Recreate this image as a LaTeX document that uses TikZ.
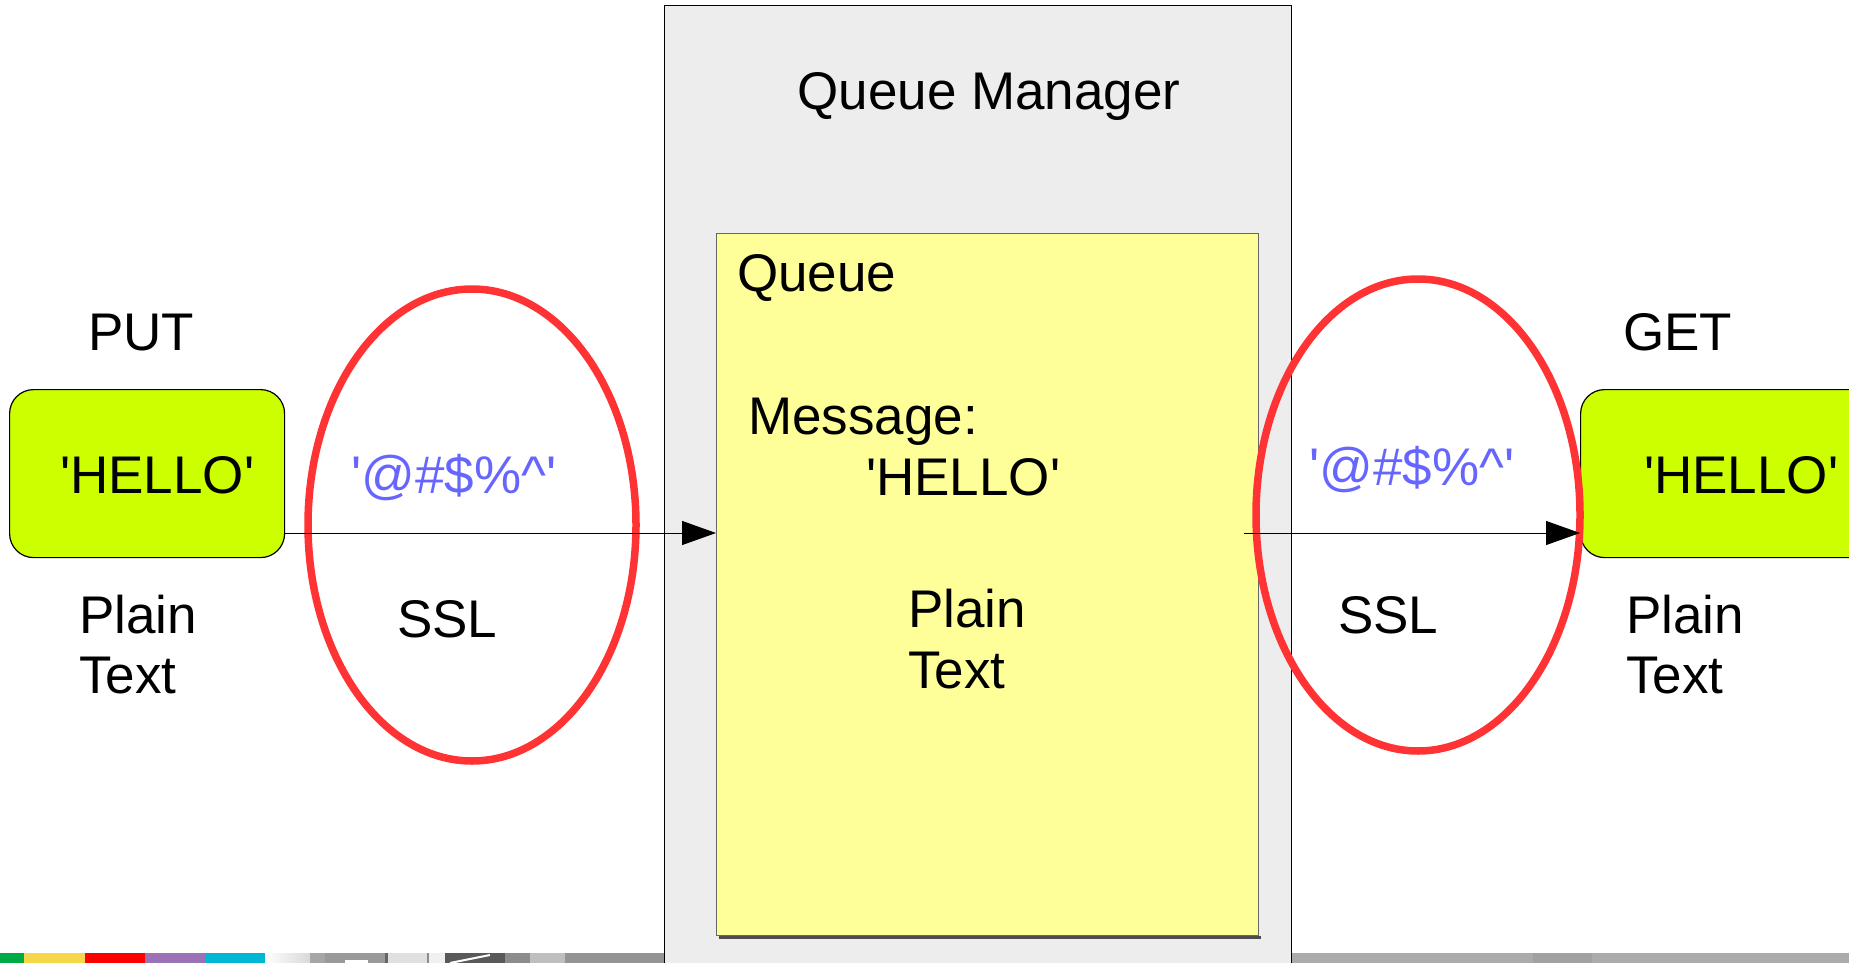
\documentclass[tikz,border=0pt]{standalone}
\usepackage{fontspec}
\setmainfont{Liberation Sans}
\usetikzlibrary{arrows.meta}

\definecolor{mgrbg}{HTML}{EDEDED}
\definecolor{qbg}{HTML}{FFFF99}
\definecolor{appbg}{HTML}{CCFF00}
\definecolor{sslred}{HTML}{FF3333}
\definecolor{cipher}{HTML}{6666FF}
\definecolor{stripgreen}{HTML}{00AA44}
\definecolor{stripyellow}{HTML}{F5D84A}
\definecolor{stripred}{HTML}{FF0000}
\definecolor{strippurple}{HTML}{9B72B5}
\definecolor{stripcyan}{HTML}{00B8D4}

% straight apostrophe
\newcommand{\sq}{\textquotesingle}

\tikzset{
  lbl/.style={inner sep=0pt, anchor=base west, font=\fontsize{53}{61}\selectfont},
  app/.style={draw=black, line width=1.2pt, fill=appbg, rounded corners=24pt},
  ring/.style={draw=sslred, line width=7.5pt},
  flow/.style={line width=1pt, -{Triangle[length=34pt,width=24pt]}},
}

\begin{document}
\begin{tikzpicture}[x=1pt,y=-1pt]
\useasboundingbox (0,0) rectangle (1849,963);
\begin{scope}
\clip (0,0) rectangle (1849,963);

% bottom decorative strip
\fill[stripgreen]  (0,953)   rectangle (24,963);
\fill[stripyellow] (24,953)  rectangle (85,963);
\fill[stripred]    (85,953)  rectangle (145,963);
\fill[strippurple] (145,953) rectangle (205,963);
\fill[stripcyan]   (205,953) rectangle (265,963);
\shade[left color=white, right color=black!15] (265,953) rectangle (310,963);
\fill[black!35] (310,953) rectangle (325,963);
\fill[black!40] (325,953) rectangle (385,963);
\fill[white]    (345,960) rectangle (368,963);
\fill[black!60] (385,953) rectangle (388,963);
\fill[black!12] (388,953) rectangle (427,963);
\fill[black!45] (427,953) rectangle (429,963);
\fill[black!6]  (429,953) rectangle (445,963);
\fill[black!65] (445,953) rectangle (505,963);
\draw[white, line width=2pt] (450,963) -- (490,955);
\fill[black!45] (505,953) rectangle (530,963);
\fill[black!25] (530,953) rectangle (565,963);
\fill[black!42] (565,953) rectangle (664,963);
\fill[black!33] (1291,953) rectangle (1849,963);
\fill[black!37] (1533,953) rectangle (1592,963);

% queue manager and its queue
\node[draw=black, line width=1.2pt, fill=mgrbg, inner sep=0pt, anchor=north west,
      minimum width=627pt, minimum height=980pt] (qm) at (664,5) {};
\fill[black!70] (719,936) rectangle (1261,939);
\node[draw=black!60, line width=1.2pt, fill=qbg, inner sep=0pt, anchor=north west,
      minimum width=542pt, minimum height=702pt] (queue) at (716,233) {};

% applications
\node[app, inner sep=0pt, anchor=north west, minimum width=275pt, minimum height=168pt] (put) at (9,389) {};
\node[app, inner sep=0pt, anchor=north west, minimum width=300pt, minimum height=168pt] (get) at (1580,389) {};

% SSL channels
\draw[ring] (472,525) ellipse [x radius=164pt, y radius=236pt];
\draw[ring] (1418,515) ellipse [x radius=162pt, y radius=236pt];

% message flow
\coordinate (outq) at (1244,533);
\draw[flow] (put.east |- outq) -- (queue.west |- outq);
\draw[flow] (outq) -- (get.west |- outq);

\end{scope}

% texts
\node[lbl, anchor=base] (qmlbl) at (989,110) {Queue Manager};
\node[lbl] (qlbl) at (737,291) {Queue};
\node[lbl] (msg) at (748,434) {Message:};
\node[lbl] (msgval) at (866,495) {\sq HELLO\sq};
\node[lbl] (qplain) at (908,627) {Plain};
\node[lbl] (qtext) at (908,688) {Text};

\node[lbl] (putlbl) at (88,350) {PUT};
\node[lbl] (putval) at (60,493) {\sq HELLO\sq};
\node[lbl] (putplain) at (79,633) {Plain};
\node[lbl] (puttext) at (79,693) {Text};
\node[lbl, text=cipher] (lcipher) at (351,493) {\sq @\#\$\%\^{}\sq};
\node[lbl] (lssl) at (397,637) {SSL};

\node[lbl] (getlbl) at (1623,350) {GET};
\node[lbl] (getval) at (1644,493) {\sq HELLO\sq};
\node[lbl] (getplain) at (1626,633) {Plain};
\node[lbl] (gettext) at (1626,693) {Text};
\node[lbl, text=cipher] (rcipher) at (1309,485) {\sq @\#\$\%\^{}\sq};
\node[lbl] (rssl) at (1338,633) {SSL};
\end{tikzpicture}
\end{document}
